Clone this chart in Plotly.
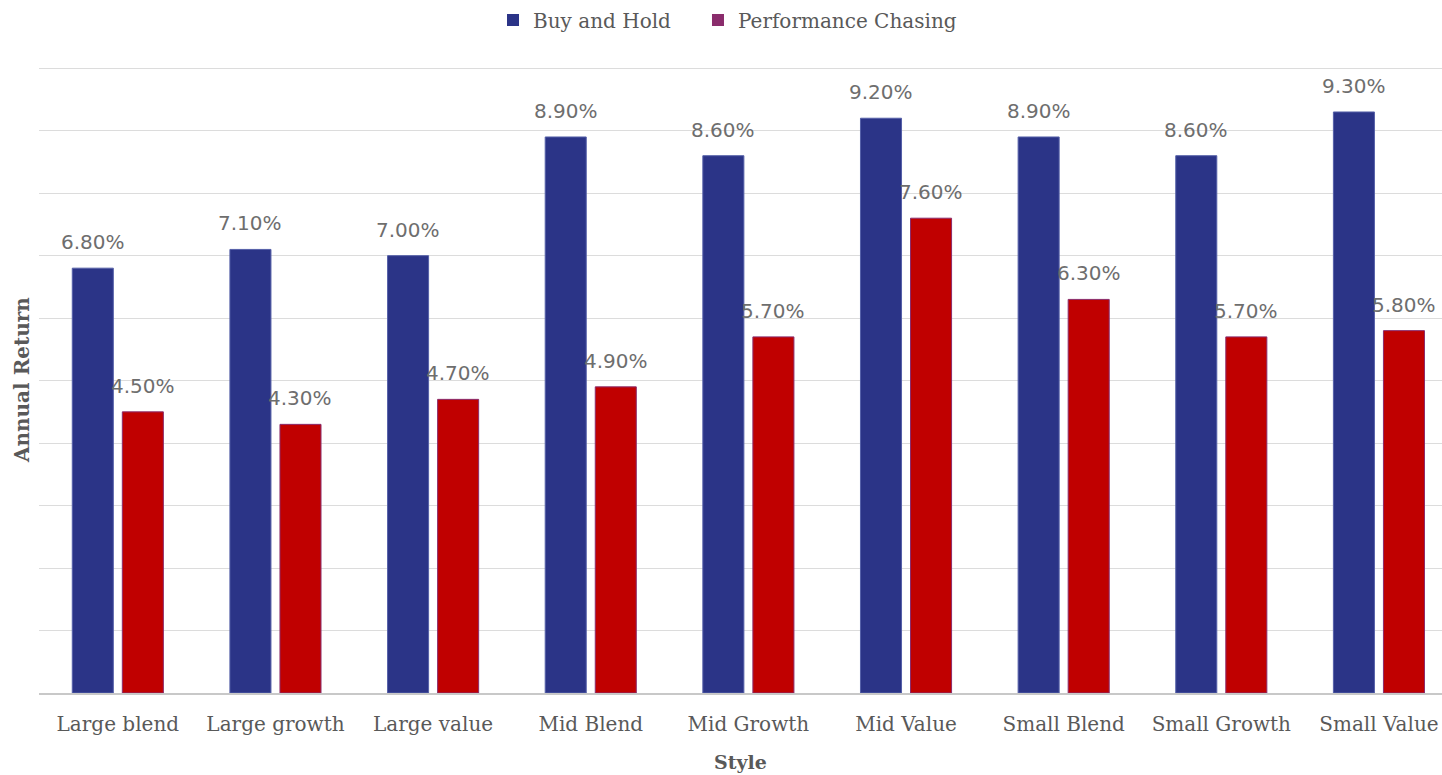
import plotly.graph_objects as go

styles = ["Large blend", "Large growth", "Large value", "Mid Blend", "Mid Growth",
          "Mid Value", "Small Blend", "Small Growth", "Small Value"]
buy_and_hold = [6.8, 7.1, 7.0, 8.9, 8.6, 9.2, 8.9, 8.6, 9.3]
performance_chasing = [4.5, 4.3, 4.7, 4.9, 5.7, 7.6, 6.3, 5.7, 5.8]

BLUE = "#2B3487"
RED = "#C00000"
PURPLE = "#8A2C6C"
GRAY = "#595959"
LABEL_GRAY = "#6E6E6E"
SERIF = "DejaVu Serif"
SANS = "DejaVu Sans"

fig = go.Figure()
fig.add_trace(go.Bar(x=styles, y=buy_and_hold, name="Buy and Hold",
                     marker=dict(color=BLUE, line=dict(color="#5560A8", width=1)),
                     showlegend=False))
fig.add_trace(go.Bar(x=styles, y=performance_chasing, name="Performance Chasing",
                     marker=dict(color=RED, line=dict(color=PURPLE, width=1)),
                     showlegend=False))

# legend swatches (square markers, no data), one legend box per entry
for name, col, lg in (("Buy and Hold", BLUE, "legend"),
                      ("Performance Chasing", PURPLE, "legend2")):
    fig.add_trace(go.Scatter(x=[None], y=[None], name=name, mode="markers", legend=lg,
                             marker=dict(symbol="square", size=13, color=col)))

# value labels above each bar
offset = 0.1585
for i, (b, p) in enumerate(zip(buy_and_hold, performance_chasing)):
    for xo, v in ((-offset, b), (offset, p)):
        fig.add_annotation(x=i + xo, y=v, xref="x", yref="y", text=f"{v:.2f}%",
                           showarrow=False, yshift=26, yanchor="middle",
                           font=dict(family=SANS, size=20, color=LABEL_GRAY))

fig.add_annotation(x=-0.0121, xref="paper", y=0.5, yref="paper", text="<b>Annual Return</b>",
                   textangle=-90, showarrow=False, xanchor="center", yanchor="middle",
                   font=dict(family=SERIF, size=20, color=GRAY))
fig.add_annotation(x=0.5, xref="paper", y=-0.11, yref="paper", text="<b>Style</b>",
                   showarrow=False, xanchor="center", yanchor="middle",
                   font=dict(family=SERIF, size=19, color=GRAY))

legend_style = dict(orientation="h", xanchor="left", y=1.075, yanchor="middle",
                    font=dict(family=SERIF, size=20, color=GRAY),
                    itemsizing="constant", itemwidth=30, bgcolor="rgba(0,0,0,0)")

fig.update_layout(
    width=1442, height=775,
    margin=dict(l=39, r=0, t=67, b=82),
    paper_bgcolor="white", plot_bgcolor="white",
    barmode="group", bargap=0.365, bargroupgap=0.18,
    legend=dict(x=0.3236, **legend_style),
    legend2=dict(x=0.4697, **legend_style),
    xaxis=dict(type="category", range=[-0.5, 8.4], showline=True, linecolor="#C8C8C8",
               linewidth=2, ticks="", ticklabelstandoff=12,
               tickfont=dict(family=SERIF, size=20, color=GRAY), showgrid=False),
    yaxis=dict(range=[0, 10.02], dtick=1, showticklabels=False, showgrid=True,
               gridcolor="#DCDCDC", gridwidth=1, zeroline=False),
)
fig.write_html("out.html")
